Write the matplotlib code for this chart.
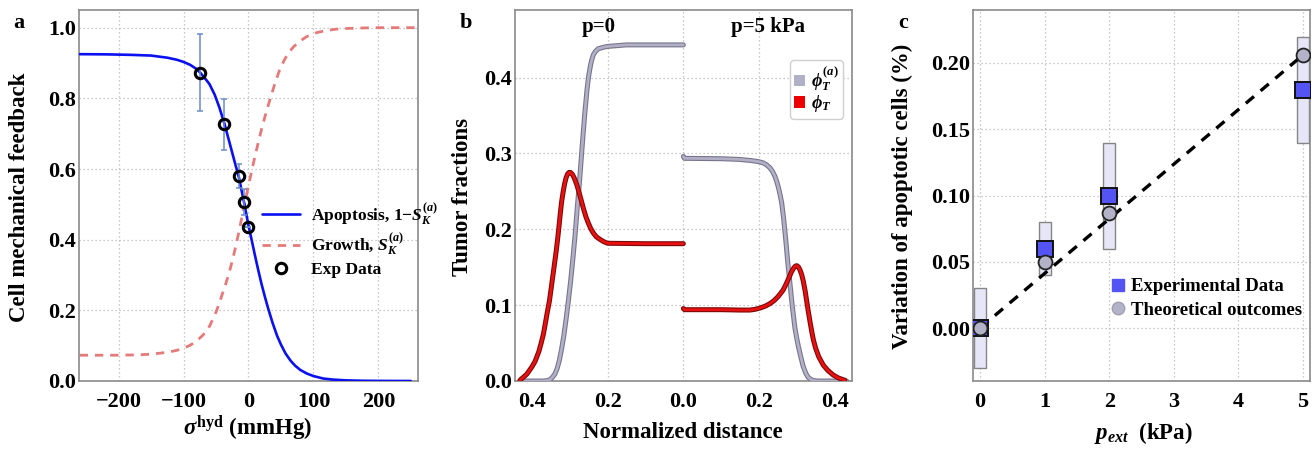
import matplotlib
matplotlib.use("Agg")
import matplotlib.pyplot as plt
import matplotlib.patheffects as pe
from matplotlib.patches import Rectangle, Patch
from matplotlib.lines import Line2D

plt.rcParams['font.family'] = ['Liberation Serif', 'DejaVu Serif']
plt.rcParams['font.weight'] = 'bold'
plt.rcParams['mathtext.fontset'] = 'custom'
plt.rcParams['mathtext.rm'] = 'Liberation Serif:bold'
plt.rcParams['mathtext.it'] = 'Liberation Serif:bold:italic'
plt.rcParams['mathtext.bf'] = 'Liberation Serif:bold'
plt.rcParams['lines.solid_joinstyle'] = 'round'
plt.rcParams['lines.solid_capstyle'] = 'round'

# ---------------- Panel a data ----------------
apop_x = [-260, -220, -180, -150, -125, -110, -100, -90, -80, -74, -65, -60, -52, -45, -37,
          -30, -22, -15, -7, 0, 5, 10, 15, 20, 25, 30, 37, 44, 50, 57, 65, 72, 80, 90, 100,
          115, 130, 150, 175, 200, 250]
apop_y = [0.925, 0.9245, 0.923, 0.921, 0.915, 0.909, 0.903, 0.895, 0.883, 0.872, 0.852,
          0.84, 0.81, 0.775, 0.728, 0.68, 0.625, 0.578, 0.507, 0.44, 0.398, 0.355, 0.314,
          0.275, 0.24, 0.207, 0.165, 0.128, 0.103, 0.078, 0.057, 0.043, 0.031, 0.021, 0.014,
          0.007, 0.004, 0.0018, 0.0007, 0.0003, 0.0]
grow_x = [-260, -200, -170, -150, -135, -120, -110, -100, -90, -80, -70, -60, -50, -45, -40,
          -35, -30, -25, -20, -15, -10, -5, 0, 5, 10, 15, 20, 25, 30, 35, 40, 47, 55, 62, 70,
          80, 90, 105, 120, 140, 170, 200, 260]
grow_y = [0.073, 0.073, 0.074, 0.076, 0.079, 0.083, 0.087, 0.093, 0.101, 0.113, 0.13, 0.155,
          0.195, 0.22, 0.248, 0.275, 0.305, 0.34, 0.378, 0.42, 0.465, 0.51, 0.553, 0.595,
          0.636, 0.675, 0.712, 0.746, 0.778, 0.808, 0.838, 0.876, 0.908, 0.93, 0.947, 0.963,
          0.975, 0.986, 0.992, 0.997, 0.999, 1.0, 1.0]
exp_x = [-74, -37, -15, -7, 0]
exp_y = [0.872, 0.726, 0.58, 0.507, 0.436]
exp_err = [0.109, 0.072, 0.035, 0.037, 0.0]
a_xticks = [-200, -100, 0, 100, 200]
a_yticks = [0.0, 0.2, 0.4, 0.6, 0.8, 1.0]

# ---------------- Panel b data ----------------
# p = 0 (drawn mirrored on the left side), distance from centre
b0_gray_d = [0.0, 0.1, 0.15, 0.176, 0.2, 0.21, 0.225, 0.233, 0.238, 0.243, 0.247, 0.251,
             0.255, 0.26, 0.265, 0.269, 0.275, 0.28, 0.286, 0.292, 0.298, 0.304, 0.31, 0.316,
             0.322, 0.328, 0.334, 0.34, 0.346, 0.352, 0.36, 0.37, 0.40, 0.432]
b0_gray_y = [0.443, 0.443, 0.443, 0.442, 0.441, 0.440, 0.438, 0.434, 0.430, 0.422, 0.412,
             0.40, 0.383, 0.356, 0.326, 0.30, 0.26, 0.232, 0.194, 0.162, 0.132, 0.106, 0.082,
             0.06, 0.042, 0.027, 0.016, 0.009, 0.005, 0.002, 0.0005, 0.0, 0.0, 0.0]
b0_red_d = [0.0, 0.1, 0.2, 0.21, 0.22, 0.23, 0.238, 0.245, 0.252, 0.258, 0.264, 0.27, 0.276,
            0.282, 0.288, 0.293, 0.298, 0.302, 0.306, 0.31, 0.314, 0.318, 0.322, 0.326, 0.330,
            0.336, 0.342, 0.348, 0.354, 0.36, 0.366, 0.370, 0.376, 0.382, 0.392, 0.40, 0.414,
            0.432]
b0_red_y = [0.181, 0.181, 0.1815, 0.1835, 0.1865, 0.19, 0.195, 0.201, 0.209, 0.217, 0.227,
            0.238, 0.249, 0.259, 0.267, 0.272, 0.2748, 0.275, 0.273, 0.268, 0.26, 0.249,
            0.236, 0.218, 0.198, 0.172, 0.15, 0.128, 0.106, 0.09, 0.073, 0.062, 0.05, 0.039,
            0.026, 0.019, 0.009, 0.001]
# p = 5 kPa (right side)
b5_gray_d = [0.0, 0.003, 0.1, 0.15, 0.18, 0.2, 0.211, 0.22, 0.229, 0.236, 0.242, 0.247,
             0.252, 0.256, 0.26, 0.265, 0.271, 0.276, 0.282, 0.288, 0.295, 0.3, 0.304, 0.31,
             0.317, 0.324, 0.33, 0.337, 0.345, 0.355, 0.40, 0.432]
b5_gray_y = [0.296, 0.2935, 0.293, 0.292, 0.2905, 0.289, 0.2875, 0.285, 0.281, 0.276, 0.27,
             0.263, 0.254, 0.245, 0.235, 0.215, 0.185, 0.157, 0.128, 0.099, 0.07, 0.056,
             0.046, 0.033, 0.019, 0.01, 0.005, 0.002, 0.0005, 0.0, 0.0, 0.0]
b5_red_d = [0.0, 0.003, 0.1, 0.15, 0.176, 0.19, 0.205, 0.218, 0.229, 0.24, 0.25, 0.258,
            0.264, 0.272, 0.28, 0.286, 0.292, 0.2965, 0.300, 0.304, 0.308, 0.313, 0.317,
            0.322, 0.326, 0.330, 0.335, 0.34, 0.344, 0.35, 0.358, 0.37, 0.382, 0.396, 0.41,
            0.427]
b5_red_y = [0.0955, 0.094, 0.094, 0.0935, 0.0935, 0.0945, 0.0965, 0.099, 0.102, 0.106,
            0.111, 0.116, 0.12, 0.128, 0.137, 0.144, 0.149, 0.1515, 0.152, 0.1505, 0.147,
            0.14, 0.132, 0.119, 0.106, 0.093, 0.078, 0.064, 0.054, 0.043, 0.032, 0.021,
            0.014, 0.008, 0.004, 0.001]
b_xticks = [-0.4, -0.2, 0.0, 0.2, 0.4]
b_xticklabels = ['0.4', '0.2', '0.0', '0.2', '0.4']
b_yticks = [0.0, 0.1, 0.2, 0.3, 0.4]

# ---------------- Panel c data ----------------
c_x = [0, 1, 2, 5]
c_exp = [0.0, 0.06, 0.10, 0.18]
c_lo = [-0.03, 0.04, 0.06, 0.14]
c_hi = [0.03, 0.08, 0.14, 0.22]
c_theo = [0.0, 0.05, 0.087, 0.206]
c_fit_x = [0, 5]
c_fit_y = [0.0, 0.206]
c_xticks = [0, 1, 2, 3, 4, 5]
c_yticks = [0.0, 0.05, 0.10, 0.15, 0.20]

W, H = 1315, 451
fig = plt.figure(figsize=(W / 100, H / 100), dpi=100)

def px_ax(l, r, t, b):
    return fig.add_axes([l / W, 1 - b / H, (r - l) / W, (b - t) / H])

SPINE = '#8a8a8a'
TICKFS = 16
LABFS = 16.5

def style(ax):
    for s in ax.spines.values():
        s.set_color(SPINE)
        s.set_linewidth(1.2)
    ax.tick_params(length=0, labelsize=TICKFS)
    ax.tick_params(axis='x', pad=8)
    ax.tick_params(axis='y', pad=2)
    ax.grid(True, color='#b8b8b8', linestyle=(0, (1, 2.2)), linewidth=0.9)
    ax.set_axisbelow(True)
    for lab in ax.get_xticklabels() + ax.get_yticklabels():
        lab.set_fontweight('bold')

# ---------------- Panel a ----------------
axa = px_ax(79, 418, 10, 381)
axa.plot(apop_x, apop_y, color='#0a10f0', lw=1.9, label=r'Apoptosis, 1$-S_K^{(a)}$', zorder=3)
axa.plot(grow_x, grow_y, color='#e57a7a', lw=2.0, ls=(0, (3, 2.5)),
         label=r'Growth, $S_K^{(a)}$', zorder=2)
axa.errorbar(exp_x, exp_y, yerr=exp_err, fmt='none', ecolor='#6b8cc8', elinewidth=1.1,
             capsize=2.5, capthick=1.1, zorder=4)
axa.plot(exp_x, exp_y, 'o', ms=7.5, mfc='none', mec='black', mew=2.2, label='Exp Data',
         zorder=5)
axa.set_xlim(-261, 261)
axa.set_ylim(0, 1.05)
axa.set_xticks(a_xticks)
axa.set_xticklabels(['\u2212200', '\u2212100', '0', '100', '200'])
axa.set_yticks(a_yticks)
axa.set_yticklabels(['0.0', '0.2', '0.4', '0.6', '0.8', '1.0'])
style(axa)
axa.legend(loc='upper left', bbox_to_anchor=(262 / W, 1 - 201 / H),
           bbox_transform=fig.transFigure, frameon=False, fontsize=12.5,
           handlelength=2.2, handletextpad=0.6, labelspacing=0.25, borderaxespad=0,
           borderpad=0)

# ---------------- Panel b ----------------
axb = px_ax(514.7, 852, 10, 381)
fx = lambda d: [-v for v in d]
gray_pe = [pe.Stroke(linewidth=3.6, foreground='#77748c'), pe.Normal()]
red_pe = [pe.Stroke(linewidth=3.6, foreground='#7a0a0a'), pe.Normal()]
axb.plot(fx(b0_gray_d), b0_gray_y, color='#b2b0c6', lw=2.0, path_effects=gray_pe, zorder=3)
axb.plot(fx(b0_red_d), b0_red_y, color='#e81010', lw=2.0, path_effects=red_pe, zorder=4)
axb.plot(b5_gray_d, b5_gray_y, color='#b2b0c6', lw=2.0, path_effects=gray_pe, zorder=3)
axb.plot(b5_red_d, b5_red_y, color='#e81010', lw=2.0, path_effects=red_pe, zorder=4)
axb.set_xlim(-0.446, 0.446)
axb.set_ylim(0, 0.489)
axb.set_xticks(b_xticks)
axb.set_xticklabels(b_xticklabels)
axb.set_yticks(b_yticks)
axb.set_yticklabels(['0.0', '0.1', '0.2', '0.3', '0.4'])
style(axb)
axb.xaxis.grid(False)
for xv in [-0.2, 0.0, 0.2]:
    axb.axvline(xv, color='#b8b8b8', linestyle=(0, (1, 2.2)), linewidth=0.9, zorder=0)
axb.text(-0.225, 0.467, 'p=0', ha='center', va='center', fontsize=15, fontweight='bold')
axb.text(0.223, 0.467, 'p=5 kPa', ha='center', va='center', fontsize=15, fontweight='bold')
hb = [Patch(facecolor='#b2b0c6', edgecolor='none', label=r'$\phi_T^{(a)}$'),
      Patch(facecolor='#ee0000', edgecolor='none', label=r'$\phi_T$')]
lb = axb.legend(handles=hb, loc='upper right', bbox_to_anchor=(843 / W, 1 - 60 / H),
                bbox_transform=fig.transFigure, fontsize=13, handlelength=0.6,
                handleheight=0.6, handletextpad=0.3, labelspacing=0.0, borderpad=0.25,
                borderaxespad=0, fancybox=True, framealpha=1, edgecolor='#cfcfcf')
lb.get_frame().set_linewidth(1.0)

# ---------------- Panel c ----------------
axc = px_ax(973, 1310, 10, 381)
bw = 0.186
for xv, lo, hi in zip(c_x, c_lo, c_hi):
    axc.add_patch(Rectangle((xv - bw / 2, lo), bw, hi - lo, facecolor='#e6e6f8',
                            edgecolor='#858585', lw=1.0, zorder=2))
axc.plot(c_fit_x, c_fit_y, color='black', lw=2.4, ls=(0, (3.2, 2.6)), zorder=3)
axc.plot(c_x, c_exp, 's', ms=11, mfc='#5454f4', mec='#111111', mew=1.4, zorder=4)
axc.plot(c_x, c_theo, 'o', ms=10, mfc='#b4b2c8', mec='#222222', mew=1.3, zorder=5)
axc.set_xlim(-0.11, 5.11)
axc.set_ylim(-0.04, 0.24)
axc.set_xticks(c_xticks)
axc.set_xticklabels([str(v) for v in c_xticks])
axc.set_yticks(c_yticks)
axc.set_yticklabels(['0.00', '0.05', '0.10', '0.15', '0.20'])
style(axc)
hc = [Line2D([], [], ls='none', marker='s', ms=9, mfc='#5454f4', mec='#5454f4',
             label='Experimental Data'),
      Line2D([], [], ls='none', marker='o', ms=9, mfc='#b4b2c8', mec='#a0a0b0',
             label='Theoretical outcomes')]
axc.legend(handles=hc, loc='upper left', bbox_to_anchor=(1110 / W, 1 - 278 / H),
           bbox_transform=fig.transFigure, frameon=False, fontsize=13.5,
           handlelength=0.8, handletextpad=0.3, labelspacing=0.35, borderaxespad=0,
           borderpad=0)

# ---------------- labels ----------------
fig.text(20 / W, 1 - 197 / H, 'Cell mechanical feedback', rotation=90, ha='center',
         va='center', fontsize=LABFS, fontweight='bold')
fig.text(248 / W, 1 - 428 / H, r'$\sigma^{\mathrm{hyd}}$ (mmHg)', ha='center', va='center',
         fontsize=LABFS, fontweight='bold')
fig.text(463 / W, 1 - 197 / H, 'Tumor fractions', rotation=90, ha='center', va='center',
         fontsize=LABFS, fontweight='bold')
fig.text(683 / W, 1 - 433 / H, 'Normalized distance', ha='center', va='center',
         fontsize=LABFS, fontweight='bold')
fig.text(902 / W, 1 - 196 / H, 'Variation of apoptotic cells (%)', rotation=90,
         ha='center', va='center', fontsize=16.5, fontweight='bold')
fig.text(1143 / W, 1 - 433 / H, r'$p_{ext}$  (kPa)', ha='center', va='center',
         fontsize=LABFS, fontweight='bold')
fig.text(19 / W, 1 - 23 / H, 'a', ha='center', va='center', fontsize=16, fontweight='bold')
fig.text(466 / W, 1 - 23 / H, 'b', ha='center', va='center', fontsize=16, fontweight='bold')
fig.text(903 / W, 1 - 23 / H, 'c', ha='center', va='center', fontsize=16, fontweight='bold')

fig.savefig('out.png', dpi=100)
